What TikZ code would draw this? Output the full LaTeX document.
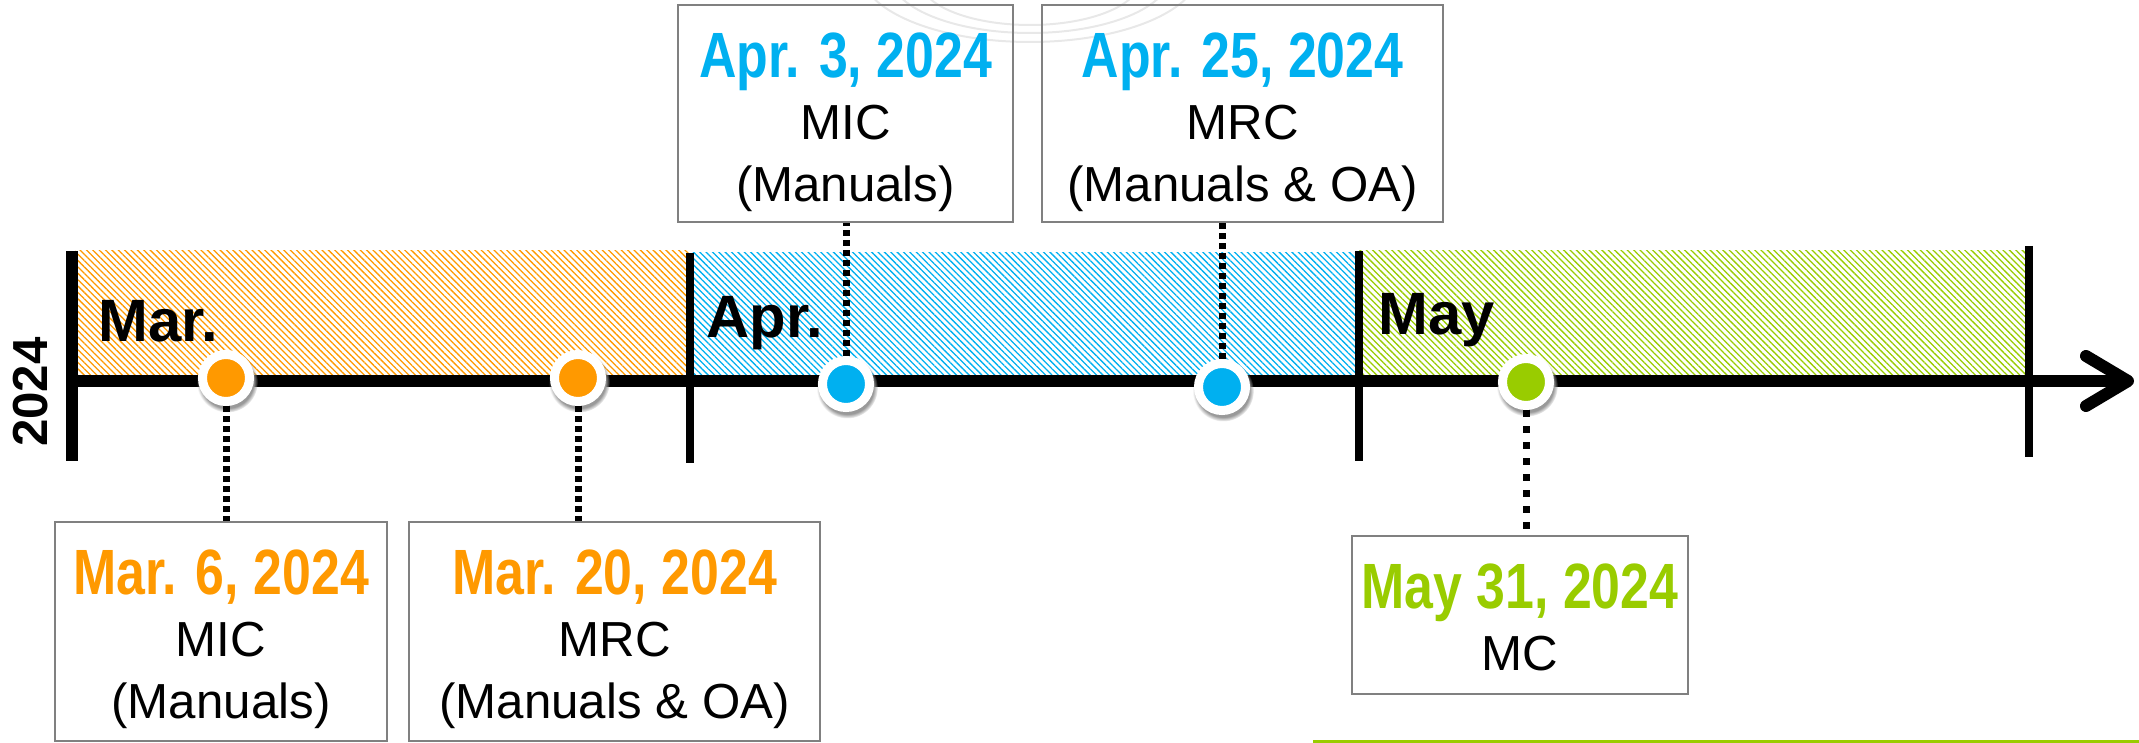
\documentclass[tikz,border=0pt]{standalone}
\usepackage{fontspec}
\setmainfont{Liberation Sans}
\newfontfamily\narrowfont[FakeStretch=0.81]{Liberation Sans}
\usetikzlibrary{positioning,arrows.meta,patterns.meta,shadows}
\definecolor{marcol}{HTML}{FF9900}
\definecolor{aprcol}{HTML}{00B0F0}
\definecolor{maycol}{HTML}{99CC00}
\definecolor{framecol}{HTML}{808080}
\newcommand{\msdate}[2]{{\narrowfont\bfseries\fontsize{18.2}{20}\selectfont\color{#1}#2}}

\begin{document}
\begin{tikzpicture}[x=0.01cm,y=-0.01cm,
   hatch/.style={pattern={Lines[angle=-45,distance=0.045cm,line width=0.013cm]},pattern color=#1},
   tick/.style={line width=0.08cm},
   milestone/.style={circle,fill=#1,draw=white,line width=0.09cm,minimum size=0.47cm,inner sep=0pt,
      circular drop shadow={shadow scale=1.3,shadow xshift=0.01cm,shadow yshift=-0.03cm,fill=black!40}},
   datebox/.style={rectangle,draw=framecol,line width=0.02cm,minimum height=2.18cm,inner sep=0pt},
   boxtext/.style={align=center,inner sep=0pt,font=\fontsize{14}{17.6}\selectfont},
   leader/.style={line width=0.07cm,dash pattern=on 0.06cm off 0.04cm},
   month/.style={anchor=base west,inner sep=0pt,font=\fontsize{17}{20}\selectfont\bfseries}]
   \useasboundingbox (0,0) rectangle (2139,743);
   \clip (0,0) rectangle (2139,743);
   \draw[gray!18,line width=0.02cm] (1030,-20) ellipse [x radius=110,y radius=45]
      (1030,-25) ellipse [x radius=140,y radius=58] (1030,-30) ellipse [x radius=170,y radius=72];
   \fill[hatch=marcol] (75,251) rectangle (690,375);
   \fill[hatch=aprcol] (690,253) rectangle (1359,375);
   \fill[hatch=maycol] (1359,251) rectangle (2029,375);
   \draw[line width=0.11cm] (72,251) -- (72,461);
   \draw[tick] (690,253) -- (690,463);
   \draw[tick] (1359,251) -- (1359,461);
   \draw[tick] (2029,246) -- (2029,457);
   \draw[line width=0.12cm,-{Straight Barb[length=0.42cm,width=0.5cm,round]}] (72,381) -- (2134,381);
   \draw[maycol,line width=0.03cm] (1313,741.5) -- (2139,741.5);
   \node[month] (mar) at (98,342) {Mar.};
   \node[month] (apr) at (706,338) {Apr.};
   \node[month] (may) at (1378,335) {May};
   \node[rotate=90,font=\fontsize{14}{16}\selectfont\bfseries] (year) at (31,392) {2024};
   \node[milestone=marcol] (m6) at (226,378) {};
   \node[milestone=marcol] (m20) at (578,378) {};
   \node[milestone=aprcol] (a3) at (846,384) {};
   \node[milestone=aprcol] (a25) at (1222,387) {};
   \node[milestone=maycol] (y31) at (1526,382) {};
   \node[datebox,minimum width=3.32cm] (bm6) at (221,631.5) {};
   \node[datebox,minimum width=4.11cm] (bm20) at (614.5,631.5) {};
   \node[datebox,minimum width=3.35cm,minimum height=2.17cm] (ba3) at (845.5,113.5) {};
   \node[datebox,minimum width=4.01cm,minimum height=2.17cm] (ba25) at (1242.5,113.5) {};
   \node[datebox,minimum width=3.36cm,minimum height=1.58cm] (by31) at (1520,615) {};
   \node[boxtext,below=0.28cm of bm6.north] (tm6) {\msdate{marcol}{Mar. 6, 2024}\\MIC\\(Manuals)};
   \node[boxtext,below=0.28cm of bm20.north] (tm20) {\msdate{marcol}{Mar. 20, 2024}\\MRC\\(Manuals \& OA)};
   \node[boxtext,below=0.28cm of ba3.north] (ta3) {\msdate{aprcol}{Apr. 3, 2024}\\MIC\\(Manuals)};
   \node[boxtext,below=0.28cm of ba25.north] (ta25) {\msdate{aprcol}{Apr. 25, 2024}\\MRC\\(Manuals \& OA)};
   \node[boxtext,below=0.28cm of by31.north] (ty31) {\msdate{maycol}{May 31, 2024}\\MC};
   \draw[leader] (m6) -- (m6 |- bm6.north);
   \draw[leader] (m20) -- (m20 |- bm20.north);
   \draw[leader] (a3) -- (a3 |- ba3.south);
   \draw[leader] (a25) -- (a25 |- ba25.south);
   \draw[leader,dash pattern=on 0.07cm off 0.09cm] (y31) -- (y31 |- by31.north);
\end{tikzpicture}
\end{document}
